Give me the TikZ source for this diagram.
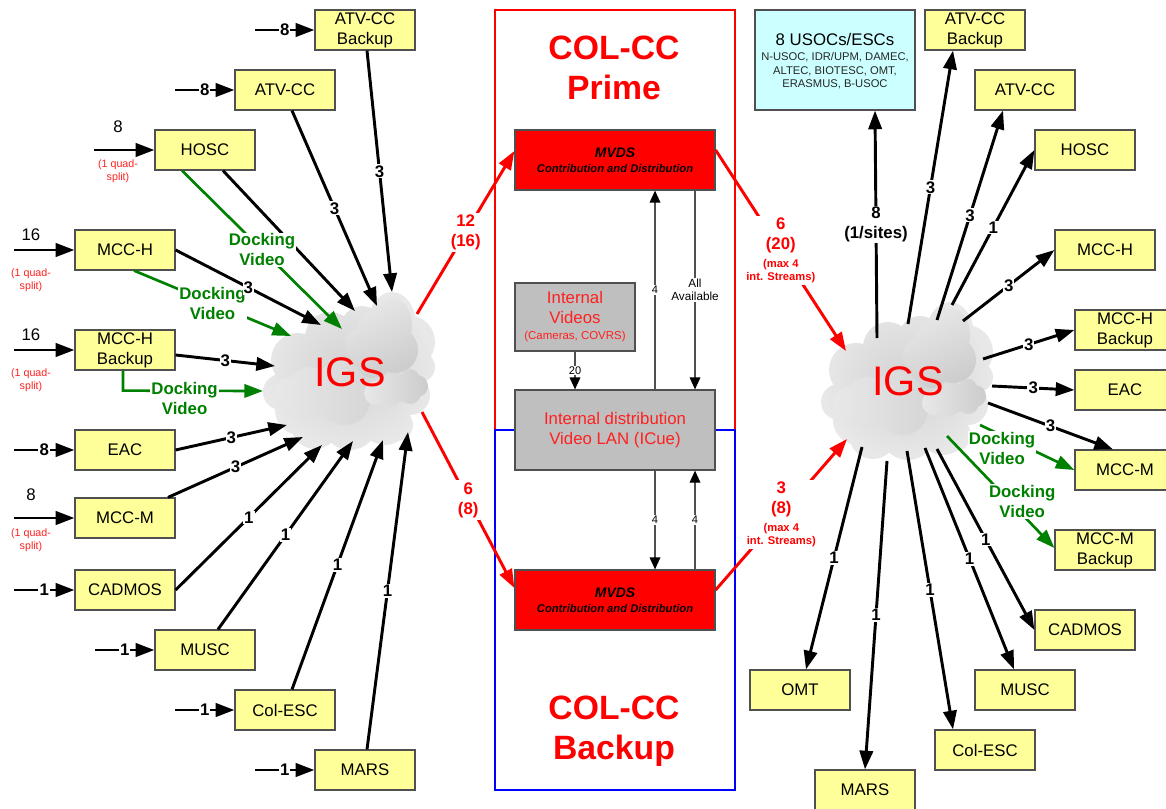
\documentclass[tikz,border=0pt]{standalone}
\usepackage{fontspec}
\setmainfont{Liberation Sans}
\usetikzlibrary{arrows.meta}
\definecolor{boxyellow}{HTML}{FFFF99}
\definecolor{boxcyan}{HTML}{CCFFFF}
\definecolor{boxgray}{HTML}{BFBFBF}
\definecolor{edgegray}{HTML}{505050}
\definecolor{softred}{HTML}{FF2020}
\definecolor{dockgreen}{HTML}{008000}
\definecolor{cA}{HTML}{D2D2D2}
\definecolor{cB}{HTML}{E8E8E8}
\definecolor{cC}{HTML}{CCCCCC}
\definecolor{cD}{HTML}{E8E8E8}
\definecolor{cE}{HTML}{D6D6D6}
\tikzset{
  basebox/.style={draw=edgegray,line width=.9pt,inner sep=0pt,align=center,text=black,font=\fontsize{12.6}{15}\selectfont},
  ybox/.style={basebox,fill=boxyellow,minimum width=75pt,minimum height=30pt},
  lab/.style={fill=white,inner sep=.8pt,align=center,font=\bfseries\fontsize{12.6}{15}\selectfont},
  glab/.style={lab,text=dockgreen},
  rlab/.style={lab,text=red,inner sep=1.5pt},
  tlab/.style={fill=white,inner sep=.8pt,align=center,text=black,font=\fontsize{8.3}{9.75}\selectfont},
  plain/.style={inner sep=0pt,align=center,text=black,font=\fontsize{12.6}{15}\selectfont},
  quad/.style={inner sep=0pt,align=center,text=softred,font=\fontsize{8}{9.9}\selectfont},
  conn/.style={draw=black,line width=2.2pt,-{Triangle[length=14pt,width=10pt]}},
  gconn/.style={draw=dockgreen,line width=2pt,-{Triangle[length=14pt,width=10pt]}},
  rconn/.style={draw=red,line width=2.2pt,-{Triangle[length=14pt,width=10pt]}},
  tconn/.style={draw=edgegray,line width=.9pt,-{Triangle[length=9pt,width=8pt,color=black]}},
  title/.style={inner sep=0pt,align=center,text=red,font=\bfseries\fontsize{25.3}{30}\selectfont},
  igstext/.style={inner sep=0pt,text=red,font=\fontsize{31}{36}\selectfont},
  framebox/.style={line width=1pt,minimum width=180pt,inner sep=0pt},
  mvdsbox/.style={basebox,fill=red,minimum width=150pt,minimum height=45pt,font=\bfseries\itshape\fontsize{8.4}{11}\selectfont},
}
\newcommand{\mxs}{\fontsize{8.4}{9.75}\selectfont}
\newcounter{lc}
\newcommand{\cn}[5]{\stepcounter{lc}\draw[#1] (#2) -- node[#3] (l\thelc) {#4} (#5);}
\newcommand{\bx}[4]{\node[ybox] (#1) at (#2+50,#3+20) {#4};}
\newcommand{\igscloud}[2]{%
\begin{scope}[shift={(#1,#2)}]
  \shade[inner color=cA,outer color=cB]
    (298,360) circle[radius=27] (281,392) circle[radius=18] (330,337) circle[radius=25]
    (362,327) circle[radius=21] (392,325) ellipse[x radius=24,y radius=33]
    (408,342) circle[radius=27] (420,367) circle[radius=15] (410,395) circle[radius=20]
    (397,425) circle[radius=16] (385,420) circle[radius=25] (350,422) circle[radius=28]
    (315,425) circle[radius=24] (300,410) circle[radius=25]
    (325,385) circle[radius=50] (372,380) circle[radius=50];
  \shade[left color=cB,right color=cC,shading angle=25]
    (362,345) circle[radius=17] (372,328) circle[radius=14] (392,325) ellipse[x radius=20,y radius=27]
    (395,350) circle[radius=23] (373,360) circle[radius=18];
  \shade[left color=cD,right color=cE]
    (290,392) circle[radius=15] (310,388) circle[radius=21] (340,385) circle[radius=24]
    (345,400) circle[radius=25] (305,400) circle[radius=18];
  \shade[left color=cB,right color=cC]
    (376,393) circle[radius=12] (395,388) circle[radius=15] (410,378) circle[radius=9]
    (417,386) circle[radius=11] (410,393) circle[radius=11] (390,398) circle[radius=9];
\end{scope}}
\begin{document}
\begin{tikzpicture}[x=.75pt,y=-.75pt]
\clip (0,0) rectangle (1166,809);
% frames
\node[framebox,draw=red,minimum height=315pt] (prime) at (615,220) {};
\node[framebox,draw=blue,minimum height=270pt] (backup) at (615,610) {};
\node[title] (tprime) at (614,68) {COL-CC\\Prime};
\node[title] (tbackup) at (614,731) {COL-CC\\Backup};
% clouds
\igscloud{0}{0}
\igscloud{558}{10}
\node[igstext] (igsL) at (350,372) {IGS};
\node[igstext] (igsR) at (908,381) {IGS};
% left boxes
\bx{atvbL}{315}{10}{ATV-CC\\Backup}
\bx{atvL}{235}{70}{ATV-CC}
\bx{hoscL}{155}{130}{HOSC}
\bx{mcchL}{75}{230}{MCC-H}
\bx{mcchbL}{75}{330}{MCC-H\\Backup}
\bx{eacL}{75}{430}{EAC}
\bx{mccmL}{75}{498}{MCC-M}
\bx{cadL}{75}{570}{CADMOS}
\bx{muscL}{155}{630}{MUSC}
\bx{colL}{235}{690}{Col-ESC}
\bx{marsL}{315}{750}{MARS}
% right boxes
\node[basebox,fill=boxcyan,minimum width=120pt,minimum height=75pt] (usoc) at (835,60) {};
\node[plain] (usoct) at (835,39) {8 USOCs/ESCs};
\node[inner sep=0pt,align=center,text=black!85,font=\fontsize{8.4}{10.1}\selectfont] (usocs) at (835,71) {N-USOC, IDR/UPM, DAMEC,\\ALTEC, BIOTESC, OMT,\\ERASMUS, B-USOC};
\bx{atvbR}{925}{10}{ATV-CC\\Backup}
\bx{atvR}{975}{70}{ATV-CC}
\bx{hoscR}{1035}{130}{HOSC}
\bx{mcchR}{1055}{230}{MCC-H}
\bx{mcchbR}{1075}{310}{MCC-H\\Backup}
\bx{eacR}{1075}{370}{EAC}
\bx{mccmR}{1075}{450}{MCC-M}
\bx{mccmbR}{1055}{530}{MCC-M\\Backup}
\bx{cadR}{1035}{610}{CADMOS}
\bx{muscR}{975}{670}{MUSC}
\bx{colR}{935}{730}{Col-ESC}
\bx{marsR}{815}{770}{MARS}
\bx{omtR}{750}{670}{OMT}
% centre boxes
\node[mvdsbox] (mvdsT) at (615,160) {{\fontsize{10.4}{11}\selectfont MVDS}\\Contribution and Distribution};
\node[mvdsbox] (mvdsB) at (615,600) {{\fontsize{10.4}{11}\selectfont MVDS}\\Contribution and Distribution};
\node[basebox,fill=boxgray,minimum width=90pt,minimum height=51pt,text=softred] (intv) at (575,317) {Internal\\Videos\\[-3pt]{\fontsize{8.6}{11}\selectfont (Cameras, COVRS)}};
\node[basebox,fill=boxgray,minimum width=150pt,minimum height=60pt,text=softred] (intd) at (615,430) {Internal distribution\\Video LAN (ICue)};
% free ends on the clouds
\coordinate (a1) at (392,292); \coordinate (a2) at (377,306); \coordinate (a3) at (355,311);
\coordinate (a4) at (342,329); \coordinate (a5) at (321,325); \coordinate (a6) at (291,336);
\coordinate (a7) at (275,366); \coordinate (a8) at (263,391); \coordinate (a9) at (287,425);
\coordinate (a10) at (303,437); \coordinate (a11) at (322,445); \coordinate (a12) at (353,441);
\coordinate (a13) at (383,440); \coordinate (a14) at (408,432);
\coordinate (a15) at (417,314); \coordinate (a16) at (422,412);
\coordinate (a17) at (846,351); \coordinate (a18) at (847,439);
\coordinate (b1) at (877,338); \coordinate (b2) at (908,324); \coordinate (b3) at (937,320);
\coordinate (b4) at (952,305); \coordinate (b5) at (963,321); \coordinate (b6) at (983,359);
\coordinate (b7) at (992,386); \coordinate (b8) at (988,403); \coordinate (b9) at (980,425);
\coordinate (b10) at (947,436); \coordinate (b11) at (937,449); \coordinate (b12) at (925,448);
\coordinate (b13) at (907,451); \coordinate (b14) at (887,461); \coordinate (b15) at (862,447);
% incoming free ends
\coordinate (i1) at (255,30); \coordinate (i2) at (175,90); \coordinate (i3) at (94,150);
\coordinate (i4) at (14,250); \coordinate (i5) at (14,350); \coordinate (i6) at (14,450);
\coordinate (i7) at (14,518); \coordinate (i8) at (14,590); \coordinate (i9) at (95,650);
\coordinate (i10) at (175,710); \coordinate (i11) at (255,770);
% incoming
\cn{conn}{i1}{lab}{8}{atvbL.west}
\cn{conn}{i2}{lab}{8}{atvL.west}
\draw[conn] (i3) -- (hoscL.west);
\draw[conn] (i4) -- (mcchL.west);
\draw[conn] (i5) -- (mcchbL.west);
\cn{conn}{i6}{lab}{8}{eacL.west}
\draw[conn] (i7) -- (mccmL.west);
\cn{conn}{i8}{lab}{1}{cadL.west}
\cn{conn}{i9}{lab}{1}{muscL.west}
\cn{conn}{i10}{lab}{1}{colL.west}
\cn{conn}{i11}{lab}{1}{marsL.west}
\node[plain] (n8a) at (118,127) {8};
\node[quad] (q1) at (118,171) {(1 quad-\\split)};
\node[plain] (n16a) at (31,235) {16};
\node[quad] (q2) at (31,280) {(1 quad-\\split)};
\node[plain] (n16b) at (31,335) {16};
\node[quad] (q3) at (31,380) {(1 quad-\\split)};
\node[plain] (n8b) at (31,495) {8};
\node[quad] (q4) at (31,540) {(1 quad-\\split)};
% left to cloud
\cn{conn}{[shift={(2,0)}]atvbL.south}{lab}{3}{a1}
\cn{conn}{[shift={(7,0)}]atvL.south}{lab}{3}{a2}
\draw[conn] ([shift={(18,0)}]hoscL.south) -- (a3);
\cn{gconn}{[shift={(-23,0)}]hoscL.south}{glab}{Docking\\Video}{a4}
\cn{gconn}{[shift={(9,0)}]mcchL.south}{glab}{Docking\\Video}{a6}
\cn{conn}{mcchL.east}{lab}{3}{a5}
\cn{conn}{[shift={(0,5)}]mcchbL.east}{lab}{3}{a7}
\draw[gconn] ([shift={(-2,0)}]mcchbL.south) -- ++(0,20) -- node[glab,pos=.44,yshift=-5.5pt] (gb) {Docking\\Video} (a8);
\cn{conn}{eacL.east}{lab}{3}{a9}
\cn{conn}{[shift={(43,0)}]mccmL.north}{lab}{3}{a10}
\cn{conn}{cadL.east}{lab}{1}{a11}
\cn{conn}{[shift={(13,0)}]muscL.north}{lab}{1}{a12}
\cn{conn}{[shift={(7,0)}]colL.north}{lab}{1}{a13}
\cn{conn}{[shift={(2,0)}]marsL.north}{lab}{1}{a14}
% cloud to right boxes
\cn{conn}{b1}{lab}{8\\(1/sites)}{[shift={(40,0)}]usoc.south}
\cn{conn}{b2}{lab}{3}{[shift={(-22,0)}]atvbR.south}
\cn{conn}{b3}{lab}{3}{[shift={(-22,0)}]atvR.south}
\cn{conn}{b4}{lab}{1}{hoscR.west}
\cn{conn}{b5}{lab}{3}{mcchR.west}
\cn{conn}{b6}{lab}{3}{mcchbR.west}
\cn{conn}{b7}{lab}{3}{eacR.west}
\cn{conn}{b8}{lab}{3}{[shift={(-12,0)}]mccmR.north}
\cn{gconn}{b9}{glab,pos=.234,yshift=-9.5pt}{Docking\\Video}{mccmR.west}
\cn{gconn}{b10}{glab,pos=.70,yshift=9.75pt}{Docking\\Video}{[shift={(0,-2)}]mccmbR.west}
\cn{conn}{b11}{lab}{1}{cadR.west}
\cn{conn}{b12}{lab}{1}{[shift={(-11,0)}]muscR.north}
\cn{conn}{b13}{lab}{1}{[shift={(-32,0)}]colR.north}
\cn{conn}{b14}{lab}{1}{marsR.north}
\cn{conn}{b15}{lab}{1}{[shift={(6,0)}]omtR.north}
% red links
\cn{rconn}{a15}{rlab}{12\\(16)}{[shift={(0,-9)}]mvdsT.west}
\cn{rconn}{a16}{rlab}{6\\(8)}{[shift={(0,-12)}]mvdsB.west}
\draw[rconn] ([shift={(0,-10)}]mvdsT.east) -- node[rlab] (r1) {6\\(20)\\[-1.5pt]\mxs (max 4\\[-5.25pt]\mxs int. Streams)} (a17);
\draw[rconn] ([shift={(0,-10)}]mvdsB.east) -- node[rlab] (r2) {3\\(8)\\[-1.5pt]\mxs (max 4\\[-5.25pt]\mxs int. Streams)} (a18);
% thin links
\cn{tconn}{intv.south}{tlab}{20}{[shift={(-40,0)}]intd.north}
\cn{tconn}{[shift={(40,0)}]intd.north}{tlab}{4}{[shift={(40,0)}]mvdsT.south}
\cn{tconn}{[shift={(80,0)}]mvdsT.south}{tlab,font=\fontsize{8.8}{9.75}\selectfont}{All\\Available}{[shift={(80,0)}]intd.north}
\cn{tconn}{[shift={(40,0)}]intd.south}{tlab}{4}{[shift={(40,0)}]mvdsB.north}
\cn{tconn}{[shift={(80,0)}]mvdsB.north}{tlab}{4}{[shift={(80,0)}]intd.south}
\end{tikzpicture}
\end{document}
